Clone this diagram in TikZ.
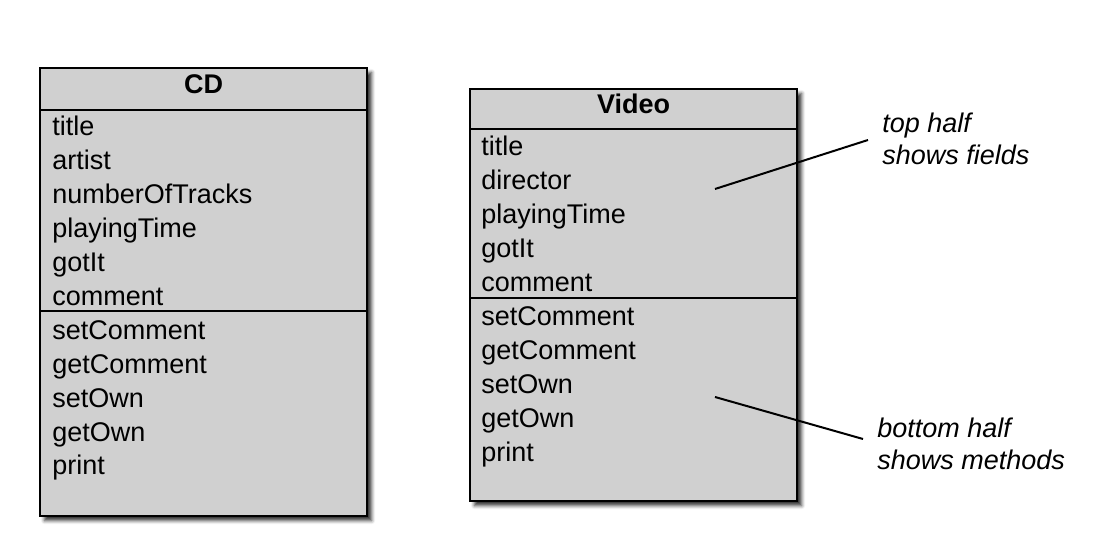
\documentclass[tikz,border=0pt]{standalone}
\usepackage{fontspec}
\setmainfont{Liberation Sans}
\usepackage{xcolor}
\usepackage{tikz}
\usetikzlibrary{shadows.blur}
\definecolor{boxgray}{RGB}{208,208,208}

\begin{document}
\begin{tikzpicture}[x=0.5pt, y=-0.5pt,
    classbox/.style={draw=black, line width=1.2pt, fill=boxgray, inner sep=0pt, anchor=north west,
      blur shadow={shadow xshift=2.2pt, shadow yshift=-2.2pt, shadow blur radius=1.8pt, shadow opacity=80}},
    rulestyle/.style={line width=1pt},
    member/.style={anchor=base west, inner sep=0pt, font=\fontsize{13.5}{16}\selectfont},
    header/.style={anchor=base, inner sep=0pt, font=\fontsize{13.5}{16}\selectfont\bfseries},
    note/.style={anchor=base west, inner sep=0pt, align=left, font=\fontsize{13.5}{16}\selectfont\itshape},
    pointer/.style={line width=1pt}]
  \useasboundingbox (0,0) rectangle (1100,560);

  % CD class
  \node[classbox, minimum width=163.5pt, minimum height=224pt] (cd) at (39,67) {};
  \draw[rulestyle] (cd.west |- 0,110) -- (cd.east |- 0,110);
  \draw[rulestyle] (cd.west |- 0,311) -- (cd.east |- 0,311);
  \node[header] (cdname) at (cd.north |- 0,94) {CD};
  \foreach \m [count=\k from 0] in {title,artist,numberOfTracks,playingTime,gotIt,comment,
      setComment,getComment,setOwn,getOwn,print}
    \node[member] (cd-\k) at (52,{136+33.9*\k}) {\m};

  % Video class
  \node[classbox, minimum width=163.5pt, minimum height=206pt] (video) at (469,88) {};
  \draw[rulestyle] (video.west |- 0,129) -- (video.east |- 0,129);
  \draw[rulestyle] (video.west |- 0,298) -- (video.east |- 0,298);
  \node[header] (videoname) at (video.north |- 0,114) {Video};
  \foreach \m [count=\k from 0] in {title,director,playingTime,gotIt,comment,
      setComment,getComment,setOwn,getOwn,print}
    \node[member] (video-\k) at (481,{156+33.9*\k}) {\m};

  % notes (base = last line)
  \node[note] (fieldsnote) at (882,165) {top half\\shows fields};
  \node[note] (methodsnote) at (877,470) {bottom half\\shows methods};
  \coordinate (fieldsin) at (715,189);
  \coordinate (fieldsout) at (868,140);
  \coordinate (methodsin) at (715,397);
  \coordinate (methodsout) at (863,439);
  \draw[pointer] (fieldsin) -- (fieldsout);
  \draw[pointer] (methodsin) -- (methodsout);
\end{tikzpicture}
\end{document}
